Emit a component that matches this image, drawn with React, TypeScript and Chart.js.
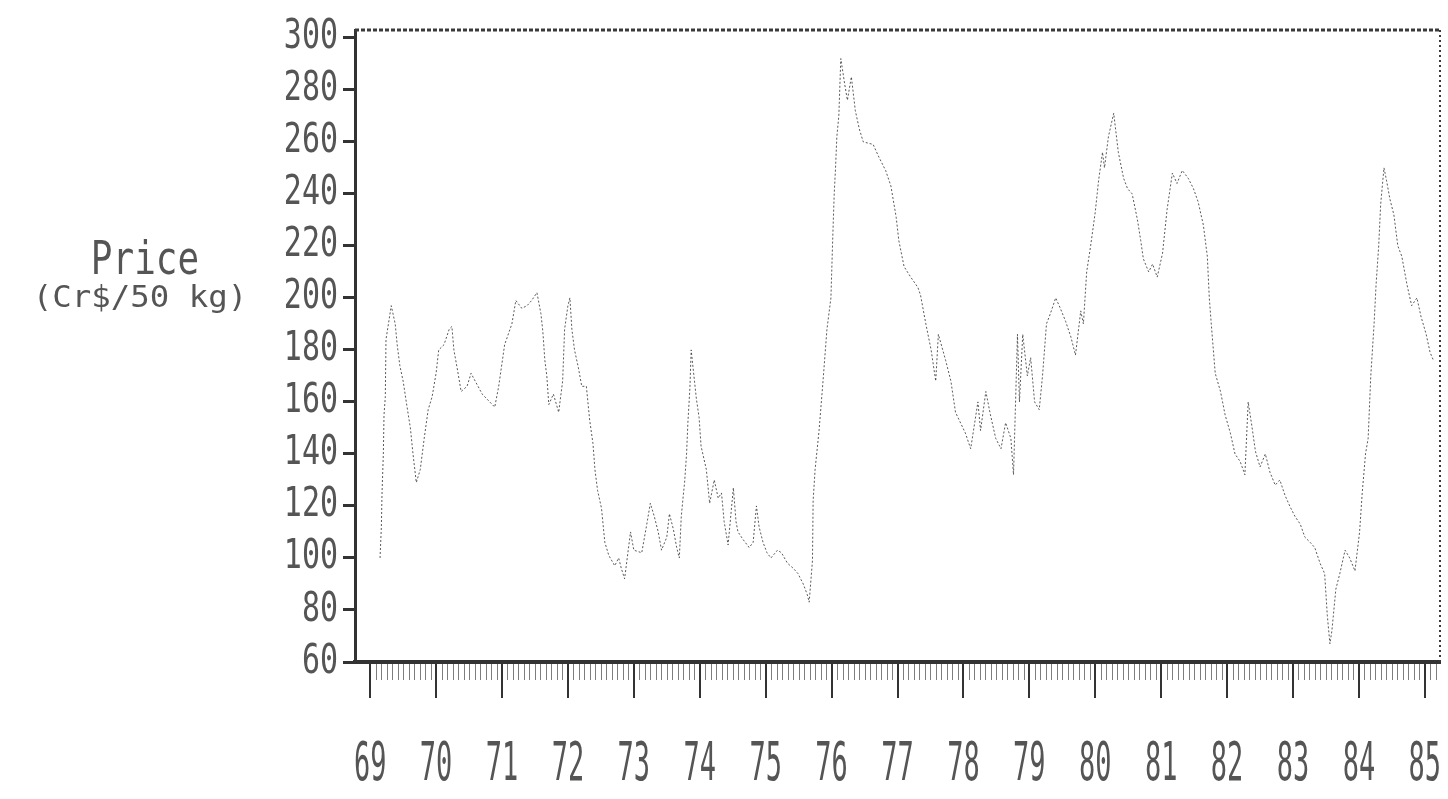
import React, { useEffect, useRef } from "react";
import { Chart, registerables } from "chart.js";

Chart.register(...registerables);

// ---- data (decimal year, price) ----
const dates: number[] = [
  1969.15, 1969.17, 1969.18, 1969.2, 1969.21, 1969.23, 1969.24, 1969.32, 1969.38, 1969.41,
  1969.45, 1969.5, 1969.56, 1969.61, 1969.65, 1969.7, 1969.76, 1969.82, 1969.88, 1969.94,
  1970.0, 1970.04, 1970.12, 1970.2, 1970.24, 1970.27, 1970.32, 1970.38, 1970.47, 1970.53,
  1970.7, 1970.89, 1970.95, 1971.04, 1971.15, 1971.21, 1971.3, 1971.38, 1971.45, 1971.53,
  1971.59, 1971.62, 1971.65, 1971.68, 1971.71, 1971.78, 1971.86, 1971.92, 1971.95, 1972.0,
  1972.03, 1972.06, 1972.1, 1972.16, 1972.21, 1972.28, 1972.33, 1972.38, 1972.41, 1972.45,
  1972.51, 1972.56, 1972.62, 1972.71, 1972.77, 1972.81, 1972.86, 1972.95, 1973.0, 1973.12,
  1973.19, 1973.25, 1973.31, 1973.37, 1973.42, 1973.5, 1973.54, 1973.6, 1973.65, 1973.69,
  1973.72, 1973.75, 1973.77, 1973.8, 1973.82, 1973.85, 1973.87, 1973.92, 1973.95, 1973.99,
  1974.02, 1974.1, 1974.15, 1974.22, 1974.28, 1974.33, 1974.37, 1974.43, 1974.51, 1974.55,
  1974.58, 1974.66, 1974.75, 1974.81, 1974.86, 1974.9, 1974.96, 1975.02, 1975.08, 1975.18,
  1975.24, 1975.33, 1975.42, 1975.49, 1975.57, 1975.63, 1975.66, 1975.71, 1975.72, 1975.75,
  1975.81, 1975.87, 1975.93, 1975.99, 1976.02, 1976.04, 1976.06, 1976.08, 1976.11, 1976.14,
  1976.2, 1976.24, 1976.3, 1976.36, 1976.42, 1976.48, 1976.63, 1976.72, 1976.82, 1976.9,
  1976.98, 1977.02, 1977.1, 1977.2, 1977.31, 1977.35, 1977.43, 1977.51, 1977.58, 1977.62,
  1977.73, 1977.81, 1977.88, 1978.03, 1978.11, 1978.22, 1978.26, 1978.34, 1978.41, 1978.49,
  1978.57, 1978.64, 1978.72, 1978.76, 1978.82, 1978.85, 1978.9, 1978.97, 1979.02, 1979.08,
  1979.15, 1979.2, 1979.26, 1979.32, 1979.4, 1979.47, 1979.55, 1979.63, 1979.7, 1979.78,
  1979.82, 1979.87, 1979.93, 1980.0, 1980.05, 1980.11, 1980.14, 1980.2, 1980.28, 1980.35,
  1980.43, 1980.49, 1980.56, 1980.64, 1980.69, 1980.73, 1980.81, 1980.87, 1980.94, 1981.02,
  1981.09, 1981.17, 1981.24, 1981.32, 1981.41, 1981.49, 1981.56, 1981.64, 1981.7, 1981.73,
  1981.76, 1981.82, 1981.9, 1981.97, 1982.05, 1982.12, 1982.2, 1982.27, 1982.32, 1982.38,
  1982.43, 1982.5, 1982.58, 1982.65, 1982.73, 1982.8, 1982.88, 1982.95, 1983.03, 1983.11,
  1983.18, 1983.26, 1983.33, 1983.41, 1983.48, 1983.52, 1983.56, 1983.59, 1983.65, 1983.71,
  1983.79, 1983.86, 1983.94, 1984.01, 1984.05, 1984.1, 1984.14, 1984.18, 1984.23, 1984.26,
  1984.3, 1984.33, 1984.38, 1984.42, 1984.47, 1984.53, 1984.59, 1984.65, 1984.73, 1984.8,
  1984.88, 1984.94, 1985.02, 1985.08, 1985.13,
];

const prices: number[] = [
  100, 112, 125, 140, 155, 162, 184, 197, 190, 182,
  174, 168, 158, 150, 140, 129, 134, 146, 157, 162,
  171, 180, 182, 188, 189, 180, 173, 164, 166, 171,
  163, 158, 166, 182, 190, 199, 196, 197, 199, 202,
  194, 187, 176, 170, 159, 163, 156, 168, 188, 197,
  200, 188, 180, 173, 166, 166, 153, 144, 134, 126,
  119, 106, 101, 97, 100, 96, 92, 110, 103, 102,
  112, 121, 116, 110, 103, 108, 117, 111, 104, 100,
  116, 124, 129, 140, 152, 165, 180, 168, 161, 154,
  143, 134, 121, 130, 123, 125, 114, 105, 127, 114,
  110, 107, 104, 106, 120, 112, 106, 102, 100, 103,
  102, 98, 96, 94, 90, 86, 83, 99, 122, 134,
  149, 168, 188, 200, 225, 240, 250, 262, 270, 292,
  282, 276, 285, 272, 265, 260, 259, 254, 249, 243,
  231, 222, 212, 208, 204, 201, 190, 180, 168, 186,
  176, 168, 156, 148, 142, 160, 149, 164, 155, 146,
  142, 152, 146, 132, 186, 160, 186, 170, 177, 160,
  157, 170, 190, 194, 200, 196, 191, 185, 178, 195,
  190, 210, 220, 233, 245, 256, 250, 262, 271, 256,
  246, 242, 240, 230, 222, 215, 210, 213, 208, 217,
  234, 248, 244, 249, 246, 242, 237, 228, 216, 200,
  190, 171, 164, 155, 148, 140, 137, 132, 160, 150,
  141, 135, 140, 133, 128, 130, 124, 120, 116, 113,
  108, 106, 104, 98, 94, 78, 67, 72, 88, 94,
  103, 100, 95, 110, 125, 140, 146, 170, 190, 205,
  220, 236, 250, 245, 238, 232, 220, 216, 205, 197,
  200, 193, 186, 179, 176,
];

const yTickValues: number[] = [60, 80, 100, 120, 140, 160, 180, 200, 220, 240, 260, 280, 300];
const yearTicks: number[] = [1969, 1970, 1971, 1972, 1973, 1974, 1975, 1976, 1977, 1978, 1979, 1980, 1981, 1982, 1983, 1984, 1985];
const yearLabels: string[] = ["69", "70", "71", "72", "73", "74", "75", "76", "77", "78", "79", "80", "81", "82", "83", "84", "85"];
const titleMain = "Price";
const titleUnit = "(Cr$/50 kg)";

const MONO = '"DejaVu Sans Mono", "Liberation Mono", monospace';

function stretchText(
  ctx: CanvasRenderingContext2D,
  text: string,
  x: number,
  y: number,
  size: number,
  sx: number,
  sy: number,
  align: CanvasTextAlign
) {
  ctx.save();
  ctx.translate(x, y);
  ctx.scale(sx, sy);
  ctx.font = `${size}px ${MONO}`;
  ctx.textAlign = align;
  ctx.textBaseline = "middle";
  ctx.fillText(text, 0, 0);
  ctx.restore();
}

const scanPlugin = {
  id: "scanLabels",
  afterDraw(chart: any) {
    const ctx: CanvasRenderingContext2D = chart.ctx;
    const ys = chart.scales.y;
    const xs = chart.scales.x;
    const area = chart.chartArea;
    ctx.save();
    // frame (top and right), dotted like the scan
    ctx.strokeStyle = "#3a3a3a";
    ctx.lineWidth = 3;
    ctx.setLineDash([4, 2]);
    ctx.beginPath();
    ctx.moveTo(area.left, area.top);
    ctx.lineTo(area.right, area.top);
    ctx.stroke();
    ctx.lineWidth = 2;
    ctx.setLineDash([2, 3]);
    ctx.beginPath();
    ctx.moveTo(area.right, area.top);
    ctx.lineTo(area.right, area.bottom);
    ctx.stroke();
    ctx.setLineDash([]);

    // dense minor (monthly) ticks under the x axis
    ctx.strokeStyle = "rgba(70,70,70,0.7)";
    ctx.lineWidth = 1;
    ctx.beginPath();
    for (let yr = yearTicks[0]; yr < yearTicks[yearTicks.length - 1] + 1; yr++) {
      for (let m = 1; m < 12; m++) {
        const v = yr + m / 12;
        if (v > xs.max) continue;
        const px = Math.round(xs.getPixelForValue(v)) + 0.5;
        ctx.moveTo(px, area.bottom + 2);
        ctx.lineTo(px, area.bottom + 18);
      }
    }
    ctx.stroke();

    ctx.fillStyle = "#555";
    ys.ticks.forEach((t: any) => {
      const py = ys.getPixelForValue(t.value);
      stretchText(ctx, String(t.value), 338, py, 30, 1, 1.35, "right");
    });
    xs.ticks.forEach((t: any) => {
      const idx = yearTicks.indexOf(t.value);
      if (idx < 0) return;
      const px = xs.getPixelForValue(t.value);
      stretchText(ctx, yearLabels[idx], px, 766, 27, 1, 2.0, "center");
    });
    stretchText(ctx, titleMain, 145, 262, 36, 1, 1.3, "center");
    stretchText(ctx, titleUnit, 140, 299, 27, 1.2, 1.1, "center");
    ctx.restore();
  },
};

export default function App() {
  const ref = useRef<HTMLCanvasElement | null>(null);

  useEffect(() => {
    if (!ref.current) return;
    const points = dates.map((d, i) => ({ x: d, y: prices[i] }));
    const chart = new Chart(ref.current, {
      type: "line",
      data: {
        datasets: [
          {
            data: points,
            borderColor: "rgba(60,60,60,0.85)",
            borderWidth: 1,
            borderDash: [2, 2],
            pointRadius: 0,
            tension: 0,
            fill: false,
          },
        ],
      },
      options: {
        animation: false,
        responsive: false,
        maintainAspectRatio: false,
        layout: { padding: { top: 30, right: 8, left: 0, bottom: 0 } },
        plugins: { legend: { display: false }, tooltip: { enabled: false } },
        scales: {
          x: {
            type: "linear",
            min: 1968.77,
            max: 1985.23,
            afterBuildTicks: (scale: any) => {
              scale.ticks = yearTicks.map((v) => ({ value: v }));
            },
            afterFit: (scale: any) => {
              scale.height = 137;
            },
            ticks: { display: false },
            grid: {
              drawOnChartArea: false,
              drawTicks: true,
              tickLength: 36,
              color: "#333",
              lineWidth: 2,
            },
            border: { display: true, color: "#333", width: 4, dash: [3, 1] },
          },
          y: {
            type: "linear",
            min: 60,
            max: 303,
            afterBuildTicks: (scale: any) => {
              scale.ticks = yTickValues.map((v) => ({ value: v }));
            },
            afterFit: (scale: any) => {
              scale.width = 355;
            },
            ticks: { display: false },
            grid: {
              drawOnChartArea: false,
              drawTicks: true,
              tickLength: 12,
              color: "#333",
              lineWidth: 3,
            },
            border: { display: true, color: "#333", width: 3, dash: [3, 1] },
          },
        },
      },
      plugins: [scanPlugin],
    });
    return () => chart.destroy();
  }, []);

  return (
    <div
      style={{
        position: "fixed",
        left: 0,
        top: 0,
        width: 1448,
        height: 799,
        background: "#fff",
      }}
    >
      <canvas ref={ref} width={1448} height={799} style={{ display: "block" }} />
    </div>
  );
}
